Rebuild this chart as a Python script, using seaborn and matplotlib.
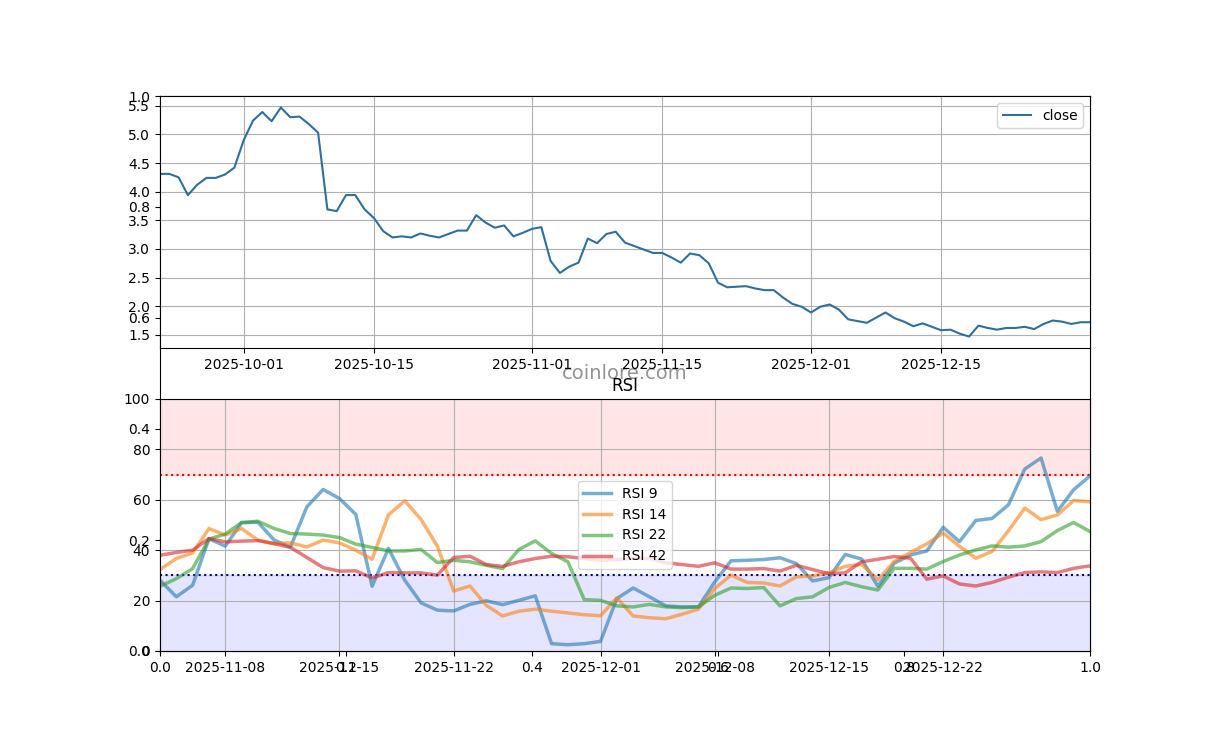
import matplotlib
matplotlib.use("Agg")
import matplotlib.pyplot as plt
import seaborn as sns
import pandas as pd

# close price, daily
close_dates = pd.date_range("2025-09-22", "2025-12-31", freq="D")
close = [4.31, 4.31, 4.25, 3.94, 4.12, 4.24, 4.24, 4.30, 4.42, 4.90,
         5.24, 5.39, 5.23, 5.47, 5.30, 5.31, 5.18, 5.03, 3.69, 3.66,
         3.94, 3.94, 3.69, 3.54, 3.31, 3.20, 3.22, 3.20, 3.27, 3.23,
         3.20, 3.26, 3.32, 3.32, 3.59, 3.46, 3.37, 3.41, 3.22, 3.28,
         3.35, 3.38, 2.79, 2.58, 2.69, 2.76, 3.18, 3.10, 3.26, 3.30,
         3.11, 3.05, 2.99, 2.93, 2.93, 2.85, 2.76, 2.92, 2.89, 2.75,
         2.41, 2.33, 2.34, 2.35, 2.31, 2.28, 2.28, 2.15, 2.04, 1.99,
         1.89, 1.99, 2.03, 1.94, 1.77, 1.74, 1.71, 1.80, 1.89, 1.79,
         1.73, 1.65, 1.70, 1.64, 1.58, 1.59, 1.52, 1.47, 1.66, 1.62,
         1.59, 1.62, 1.62, 1.64, 1.60, 1.69, 1.75, 1.73, 1.69, 1.72, 1.72]

# RSI values
rsi_dates = pd.date_range("2025-11-04", "2025-12-31", freq="D")
rsi_9 = [28.1, 21.5, 26.1, 44.6, 41.6, 50.9, 51.1, 44.0, 41.3, 57.2, 64.1, 60.5, 54.2, 25.7, 40.7,
         28.1, 19.1, 16.2, 15.9, 18.5, 19.9, 18.4, 20.1, 21.9, 2.9, 2.5, 2.9, 3.8, 20.8,
         25.0, 21.5, 17.9, 17.5, 17.5, 27.4, 35.8, 36.0, 36.3, 37.0, 34.7, 27.8, 29.1, 38.3, 36.5,
         25.6, 34.8, 38.1, 39.7, 49.1, 43.4, 51.8, 52.6, 58.0, 72.2, 76.6, 55.4, 64.0, 69.5]
rsi_14 = [32.3, 36.7, 38.9, 48.6, 46.0, 48.6, 44.0, 42.6, 42.9, 41.3, 44.0, 42.9, 40.0, 36.4, 54.0,
          59.6, 52.2, 41.6, 23.8, 25.8, 18.1, 13.9, 15.8, 16.6, 15.8, 15.1, 14.4, 14.0, 21.1,
          13.9, 13.2, 12.8, 14.6, 16.6, 24.8, 30.1, 27.2, 27.0, 25.8, 29.4, 29.8, 31.0, 33.6, 34.4,
          28.2, 35.5, 39.1, 42.5, 46.8, 41.5, 36.8, 39.5, 47.7, 56.7, 52.1, 54.0, 59.7, 59.2]
rsi_22 = [25.7, 28.7, 32.7, 44.4, 46.4, 51.0, 51.5, 48.6, 46.6, 46.4, 46.0, 45.0, 42.4, 41.1, 39.7,
          39.7, 40.3, 35.1, 36.0, 35.4, 34.0, 32.7, 40.3, 43.7, 38.7, 35.4, 20.4, 20.1, 17.9,
          17.5, 18.5, 17.5, 17.2, 17.5, 22.1, 25.0, 24.8, 25.2, 17.9, 20.8, 21.5, 25.2, 27.2, 25.5,
          24.2, 32.8, 32.8, 32.5, 35.5, 38.1, 40.1, 41.7, 41.2, 41.7, 43.4, 47.8, 51.0, 47.4]
rsi_42 = [38.0, 39.1, 40.0, 44.6, 43.3, 43.6, 43.8, 42.6, 41.1, 37.1, 33.1, 31.7, 31.8, 29.0, 31.1,
          31.0, 31.0, 30.1, 37.1, 37.6, 34.3, 33.6, 35.4, 36.7, 37.6, 37.4, 36.7, 36.0, 36.2,
          36.8, 36.7, 35.0, 34.3, 33.6, 35.0, 32.5, 32.5, 32.7, 31.7, 34.0, 32.3, 30.7, 31.0, 35.4,
          36.4, 37.5, 36.8, 28.5, 29.8, 26.6, 25.8, 27.2, 29.3, 31.1, 31.4, 31.1, 32.8, 33.8]
rsi_labels = ["RSI 9", "RSI 14", "RSI 22", "RSI 42"]
rsi_colors = ["tab:blue", "tab:orange", "tab:green", "tab:red"]

W, H = 1220, 740
fig = plt.figure(figsize=(12.2, 7.4), dpi=100)

def box(x0, y0, x1, y1):
    return [x0 / W, 1 - y1 / H, (x1 - x0) / W, (y1 - y0) / H]

# empty background axes (its 0..1 ticks show through)
bg = fig.add_axes(box(160, 96, 1090, 651))
bg.text(0.5, 0.5, "coinlore.com", transform=bg.transAxes, ha="center", va="center",
        fontsize=14, color="gray", alpha=0.85)

# price panel
ax1 = fig.add_axes(box(160, 96, 1090, 348))
sns.lineplot(x=close_dates, y=close, ax=ax1, color="#2f6f9a", linewidth=1.5, label="close")
ax1.set_xlim(close_dates[0], close_dates[-1])
ax1.grid(True)
ax1.set_xlabel("")
ax1.legend(loc="upper right")

# RSI panel
ax2 = fig.add_axes(box(160, 399, 1090, 651))
ax2.axhspan(70, 100, color="red", alpha=0.1)
ax2.axhspan(0, 30, color="blue", alpha=0.1)
ax2.axhline(70, color="red", linestyle=":", linewidth=1.5)
ax2.axhline(30, color="darkblue", linestyle=":", linewidth=1.5)
for vals, lab, col in zip([rsi_9, rsi_14, rsi_22, rsi_42], rsi_labels, rsi_colors):
    sns.lineplot(x=rsi_dates, y=vals, ax=ax2, color=col, alpha=0.6, linewidth=2.5, label=lab)
ax2.set_xlim(rsi_dates[0], rsi_dates[-1])
ax2.set_ylim(0, 100)
ax2.grid(True)
ax2.set_xlabel("")
ax2.set_title("RSI")
ax2.legend(loc="center")

fig.savefig("out.png", dpi=100)
